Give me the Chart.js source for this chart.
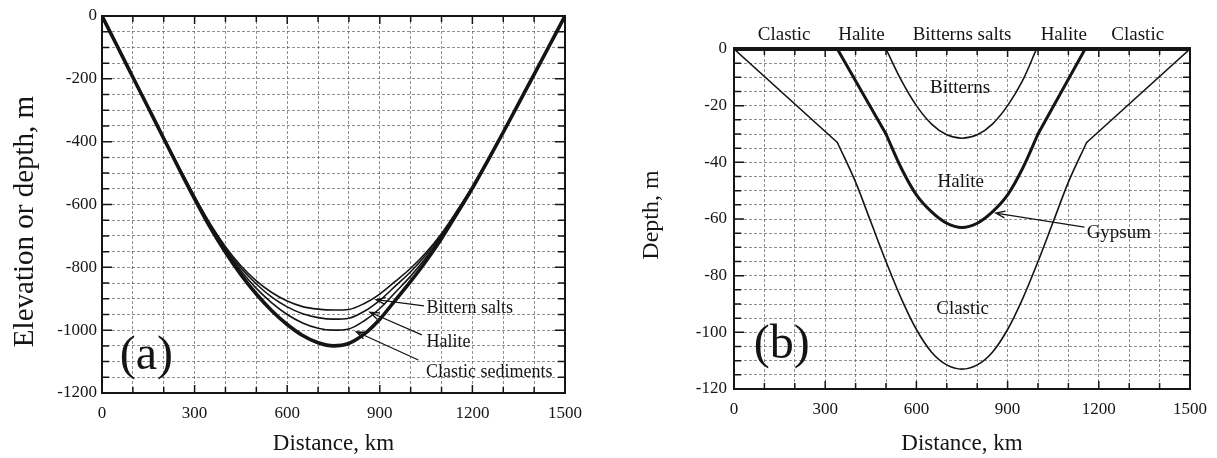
<!DOCTYPE html>
<html>
<head>
<meta charset="utf-8">
<title>Evaporite basin profiles</title>
<script src="https://cdn.jsdelivr.net/npm/chart.js@4.4.1/dist/chart.umd.min.js"></script>
<style>
  html, body { margin: 0; padding: 0; background: #fff; }
  #wrap { position: relative; width: 1217px; height: 458px; }
  .panel { position: absolute; top: 0; height: 458px; }
  #panelA { left: 0; width: 600px; }
  #panelB { left: 600px; width: 617px; }
</style>
</head>
<body>
<div id="wrap">
  <div class="panel" id="panelA"><canvas id="basinA"></canvas></div>
  <div class="panel" id="panelB"><canvas id="basinB"></canvas></div>
</div>
<script>
// (a) whole-basin profile: distance in km, elevation in m
const distA = [0, 50, 100, 150, 200, 250, 300, 350, 400, 450, 500, 550, 600, 650, 700, 750,
               800, 850, 900, 950, 1000, 1050, 1100, 1150, 1200, 1250, 1300, 1350, 1400, 1450, 1500];
const bitternTopA = [0, -97, -194, -290, -387, -482, -574, -660, -734, -795, -843, -880, -907, -925, -933, -936,
                     -934, -915, -885, -845, -803, -753, -692, -620, -543, -457, -368, -277, -186, -93, 0];
const haliteTopA = [0, -97, -194, -291, -388, -483, -576, -663, -739, -802, -853, -895, -926, -948, -960, -965,
                    -962, -940, -905, -860, -814, -760, -696, -622, -544, -458, -369, -278, -186, -93, 0];
const clasticTopA = [0, -97, -195, -292, -389, -485, -579, -667, -744, -811, -867, -913, -950, -977, -994, -1000,
                     -996, -970, -931, -880, -828, -769, -701, -625, -546, -459, -370, -278, -186, -93, 0];
const basementA = [0, -97, -195, -292, -390, -487, -582, -672, -752, -823, -885, -938, -982, -1017, -1040, -1050,
                   -1042, -1012, -965, -905, -845, -780, -708, -629, -548, -460, -370, -278, -186, -93, 0];

// (b) shelf-to-centre section: distance in km, depth in m
const clasticFlankKmL = [0, 340];
const clasticFlankML = [0, -33];
const clasticBowlKm = [340, 400, 450, 500, 550, 600, 650, 700, 750, 800, 850, 900, 950, 1000, 1050, 1100, 1160];
const clasticBowlM = [-33, -47, -61, -75, -88, -99, -107, -111.5, -113, -111.5, -107, -99, -88, -75, -61, -47, -33];
const clasticFlankKmR = [1160, 1500];
const clasticFlankMR = [-33, 0];
const haliteFlankKmL = [340, 500];
const haliteFlankML = [0, -30];
const haliteBowlKm = [500, 550, 600, 650, 700, 750, 800, 850, 900, 950, 1000];
const haliteBowlM = [-30, -42, -51.5, -57.5, -61.5, -63, -61.5, -57.5, -51.5, -42, -30];
const haliteFlankKmR = [1000, 1155];
const haliteFlankMR = [-30, 0];
const bitternKm = [500, 550, 600, 650, 700, 750, 800, 850, 900, 950, 995];
const bitternM = [0, -11, -20, -26.5, -30.3, -31.5, -30.3, -26.5, -20, -11, 0];

// tick labels
const distLabels = [0, 300, 600, 900, 1200, 1500];
const elevLabelsA = [0, -200, -400, -600, -800, -1000, -1200];
const depthLabelsB = [0, -20, -40, -60, -80, -100, -120];

const ink = '#151515';
const serif = '"Liberation Serif", "Times New Roman", serif';

const pts = (xs, ys) => xs.map((x, i) => ({x: x, y: ys[i]}));

function curve(xs, ys, width, smooth) {
  return {
    data: pts(xs, ys),
    borderColor: ink,
    borderWidth: width,
    pointRadius: 0,
    fill: false,
    tension: 0,
    cubicInterpolationMode: smooth ? 'monotone' : 'default',
    borderCapStyle: 'round',
    borderJoinStyle: 'round'
  };
}

function drawArrow(ctx, x0, y0, x1, y1) {
  const ang = Math.atan2(y1 - y0, x1 - x0);
  const head = 10;
  ctx.beginPath();
  ctx.moveTo(x0, y0);
  ctx.lineTo(x1, y1);
  ctx.moveTo(x1 - head * Math.cos(ang - 0.35), y1 - head * Math.sin(ang - 0.35));
  ctx.lineTo(x1, y1);
  ctx.lineTo(x1 - head * Math.cos(ang + 0.35), y1 - head * Math.sin(ang + 0.35));
  ctx.stroke();
}

// frame, inward ticks, labels and arrows
const framePlugin = {
  id: 'frame',
  afterDraw(chart, args, opts) {
    const {ctx, chartArea: area, scales: {x, y}} = chart;
    ctx.save();
    ctx.strokeStyle = ink;
    ctx.fillStyle = ink;

    ctx.lineWidth = 1.5;
    ctx.beginPath();
    x.ticks.forEach(t => {
      const px = x.getPixelForValue(t.value);
      const len = distLabels.includes(t.value) ? 8 : 6;
      ctx.moveTo(px, area.bottom);
      ctx.lineTo(px, area.bottom - len);
      ctx.moveTo(px, area.top);
      ctx.lineTo(px, area.top + len);
    });
    y.ticks.forEach(t => {
      const py = y.getPixelForValue(t.value);
      const len = opts.yMajor.includes(t.value) ? 10 : 7;
      ctx.moveTo(area.left, py);
      ctx.lineTo(area.left + len, py);
      ctx.moveTo(area.right, py);
      ctx.lineTo(area.right - len, py);
    });
    ctx.stroke();

    ctx.lineWidth = 2;
    ctx.strokeRect(area.left, area.top, area.width, area.height);
    ctx.lineWidth = opts.topWidth;
    ctx.beginPath();
    ctx.moveTo(area.left - 1, area.top);
    ctx.lineTo(area.right + 1, area.top);
    ctx.stroke();

    ctx.textBaseline = 'middle';
    opts.notes.forEach(n => {
      ctx.font = n.size + 'px ' + serif;
      ctx.textAlign = n.align || 'center';
      ctx.fillText(n.text, x.getPixelForValue(n.x), y.getPixelForValue(n.y));
    });

    ctx.lineWidth = 1.3;
    opts.arrows.forEach(a => {
      drawArrow(ctx, x.getPixelForValue(a.from[0]), y.getPixelForValue(a.from[1]),
                x.getPixelForValue(a.to[0]), y.getPixelForValue(a.to[1]));
    });

    const t = opts.yTitle;
    ctx.translate(area.left + t.dx, (area.top + area.bottom) / 2 + t.dy);
    ctx.rotate(-Math.PI / 2);
    ctx.textAlign = 'center';
    ctx.font = t.size + 'px ' + serif;
    ctx.fillText(t.text, 0, 0);
    ctx.restore();
  }
};

function makeOptions(cfg) {
  return {
    responsive: true,
    maintainAspectRatio: false,
    animation: false,
    layout: {padding: cfg.padding},
    plugins: {
      legend: {display: false},
      tooltip: {enabled: false},
      frame: cfg.frame
    },
    scales: {
      x: {
        type: 'linear',
        min: 0,
        max: 1500,
        afterFit: s => { s.height = cfg.xHeight; },
        ticks: {
          stepSize: 100,
          autoSkip: false,
          maxRotation: 0,
          padding: 10,
          color: ink,
          font: {family: serif, size: 17},
          callback: v => distLabels.includes(v) ? String(v) : ''
        },
        grid: {color: 'rgba(70,70,70,0.6)', lineWidth: 1, drawTicks: false},
        border: {display: false, dash: [3, 2]},
        title: {
          display: true,
          text: 'Distance, km',
          color: ink,
          font: {family: serif, size: 23},
          padding: {top: 0, bottom: 0}
        }
      },
      y: {
        type: 'linear',
        min: cfg.yMin,
        max: 0,
        afterFit: s => { s.width = cfg.yWidth; },
        ticks: {
          stepSize: cfg.yStep,
          autoSkip: false,
          padding: cfg.yPad,
          color: ink,
          font: {family: serif, size: 17},
          callback: v => cfg.yLabels.includes(v) ? String(v) : ''
        },
        grid: {color: 'rgba(70,70,70,0.6)', lineWidth: 1, drawTicks: false},
        border: {display: false, dash: [3, 2]}
      }
    }
  };
}

new Chart(document.getElementById('basinA'), {
  type: 'line',
  data: {
    datasets: [
      curve(distA, bitternTopA, 1.6, true),
      curve(distA, haliteTopA, 1.6, true),
      curve(distA, clasticTopA, 1.6, true),
      curve(distA, basementA, 3.6, true)
    ]
  },
  options: makeOptions({
    padding: {top: 16, right: 35, left: 0, bottom: 0},
    xHeight: 65,
    yWidth: 102,
    yMin: -1200,
    yStep: 50,
    yPad: 5,
    yLabels: elevLabelsA,
    frame: {
      yMajor: elevLabelsA,
      topWidth: 2,
      yTitle: {text: 'Elevation or depth, m', size: 29, dx: -77, dy: 17},
      notes: [
        {text: 'Bittern salts', x: 1051, y: -929, size: 18, align: 'left'},
        {text: 'Halite', x: 1051, y: -1038, size: 18, align: 'left'},
        {text: 'Clastic sediments', x: 1050, y: -1133, size: 18, align: 'left'},
        {text: '(a)', x: 144, y: -1082, size: 48}
      ],
      arrows: [
        {from: [1043, -923], to: [888, -903]},
        {from: [1036, -1015], to: [868, -943]},
        {from: [1025, -1095], to: [824, -1005]}
      ]
    }
  }),
  plugins: [framePlugin]
});

new Chart(document.getElementById('basinB'), {
  type: 'line',
  data: {
    datasets: [
      curve(clasticFlankKmL, clasticFlankML, 1.6, false),
      curve(clasticBowlKm, clasticBowlM, 1.6, true),
      curve(clasticFlankKmR, clasticFlankMR, 1.6, false),
      curve(haliteFlankKmL, haliteFlankML, 3, false),
      curve(haliteBowlKm, haliteBowlM, 3, true),
      curve(haliteFlankKmR, haliteFlankMR, 3, false),
      curve(bitternKm, bitternM, 1.6, true)
    ]
  },
  options: makeOptions({
    padding: {top: 49, right: 23, left: 0, bottom: 0},
    xHeight: 69,
    yWidth: 134,
    yMin: -120,
    yStep: 5,
    yPad: 7,
    yLabels: depthLabelsB,
    frame: {
      yMajor: depthLabelsB,
      topWidth: 4,
      yTitle: {text: 'Depth, m', size: 24, dx: -82, dy: -4},
      notes: [
        {text: 'Clastic', x: 165, y: 5, size: 19},
        {text: 'Halite', x: 419, y: 5, size: 19},
        {text: 'Bitterns salts', x: 750, y: 5, size: 19},
        {text: 'Halite', x: 1085, y: 5, size: 19},
        {text: 'Clastic', x: 1328, y: 5, size: 19},
        {text: 'Bitterns', x: 744, y: -13.7, size: 19},
        {text: 'Halite', x: 746, y: -46.8, size: 19},
        {text: 'Clastic', x: 752, y: -91.7, size: 19},
        {text: 'Gypsum', x: 1160, y: -64.8, size: 19, align: 'left'},
        {text: '(b)', x: 157, y: -104.7, size: 48}
      ],
      arrows: [
        {from: [1153, -62.9], to: [861, -57.9]}
      ]
    }
  }),
  plugins: [framePlugin]
});
</script>
</body>
</html>
